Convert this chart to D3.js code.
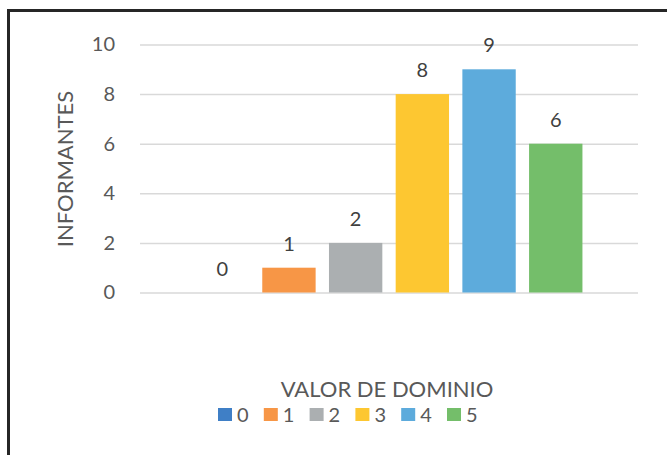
<!DOCTYPE html>
<html>
<head>
<meta charset="utf-8">
<script src="https://cdn.jsdelivr.net/npm/d3@7"></script>
<style>
  body { margin: 0; background: #fff; }
  text { font-family: Lato, "Open Sans", sans-serif; }
</style>
</head>
<body>
<div id="chart-area"></div>
<script>

// Data
var series = ["0", "1", "2", "3", "4", "5"];
var values = [0, 1, 2, 8, 9, 6];
var colors = ["#3F7FC6", "#F79646", "#ABAFB1", "#FDC731", "#5DABDC", "#74BE6A"];
var yTicks = [0, 2, 4, 6, 8, 10];

var W = 667, H = 455;

var svg = d3.select("#chart-area").append("svg")
	.attr("width", W)
	.attr("height", H);

// outer frame (runs off the right and bottom edges)
svg.append("rect")
	.attr("x", 8.5).attr("y", 10.5)
	.attr("width", W + 20).attr("height", H + 20)
	.attr("fill", "#fff")
	.attr("stroke", "#262626")
	.attr("stroke-width", 3);

var plot = {left: 140, right: 638, top: 44.5, bottom: 292.5};

var y = d3.scaleLinear()
	.domain([0, 10])
	.range([plot.bottom, plot.top]);

var x = d3.scaleBand()
	.domain(series)
	.range([plot.left, plot.right])
	.paddingInner(0.2)
	.paddingOuter(0.833);

// gridlines
var yAxis = d3.axisLeft(y)
	.tickValues(yTicks)
	.tickSize(-(plot.right - plot.left))
	.tickPadding(25);

var gy = svg.append("g")
	.attr("transform", "translate(" + plot.left + ",0)")
	.call(yAxis);

gy.select(".domain").remove();
gy.selectAll(".tick line")
	.attr("stroke", "#d9d9d9")
	.attr("stroke-width", 1.5);
gy.selectAll(".tick text")
	.attr("fill", "#595959")
	.style("font-size", "20px");

// bars
svg.selectAll(".bar")
	.data(values)
	.enter().append("rect")
	.attr("class", "bar")
	.attr("x", function(d, i) { return x(series[i]); })
	.attr("y", function(d) { return y(d); })
	.attr("width", x.bandwidth())
	.attr("height", function(d) { return y(0) - y(d); })
	.attr("fill", function(d, i) { return colors[i]; });

// data labels
svg.selectAll(".label")
	.data(values)
	.enter().append("text")
	.attr("class", "label")
	.attr("x", function(d, i) { return x(series[i]) + x.bandwidth() / 2; })
	.attr("y", function(d) { return y(d) - 17; })
	.attr("text-anchor", "middle")
	.attr("fill", "#404040")
	.style("font-size", "20px")
	.text(function(d) { return d; });

// y axis title
svg.append("text")
	.attr("transform", "translate(73,169) rotate(-90)")
	.attr("text-anchor", "middle")
	.attr("fill", "#595959")
	.style("font-size", "22px")
	.text("INFORMANTES");

// x axis title
svg.append("text")
	.attr("x", 387)
	.attr("y", 397)
	.attr("text-anchor", "middle")
	.attr("fill", "#595959")
	.style("font-size", "22px")
	.text("VALOR DE DOMINIO");

// legend
var legend = svg.selectAll(".legend")
	.data(series)
	.enter().append("g")
	.attr("class", "legend")
	.attr("transform", function(d, i) { return "translate(" + (218 + i * 45.8) + ",408)"; });

legend.append("rect")
	.attr("width", 14)
	.attr("height", 13)
	.attr("fill", function(d, i) { return colors[i]; });

legend.append("text")
	.attr("x", 19)
	.attr("y", 14)
	.attr("fill", "#595959")
	.style("font-size", "20px")
	.text(function(d) { return d; });

</script>
</body>
</html>
